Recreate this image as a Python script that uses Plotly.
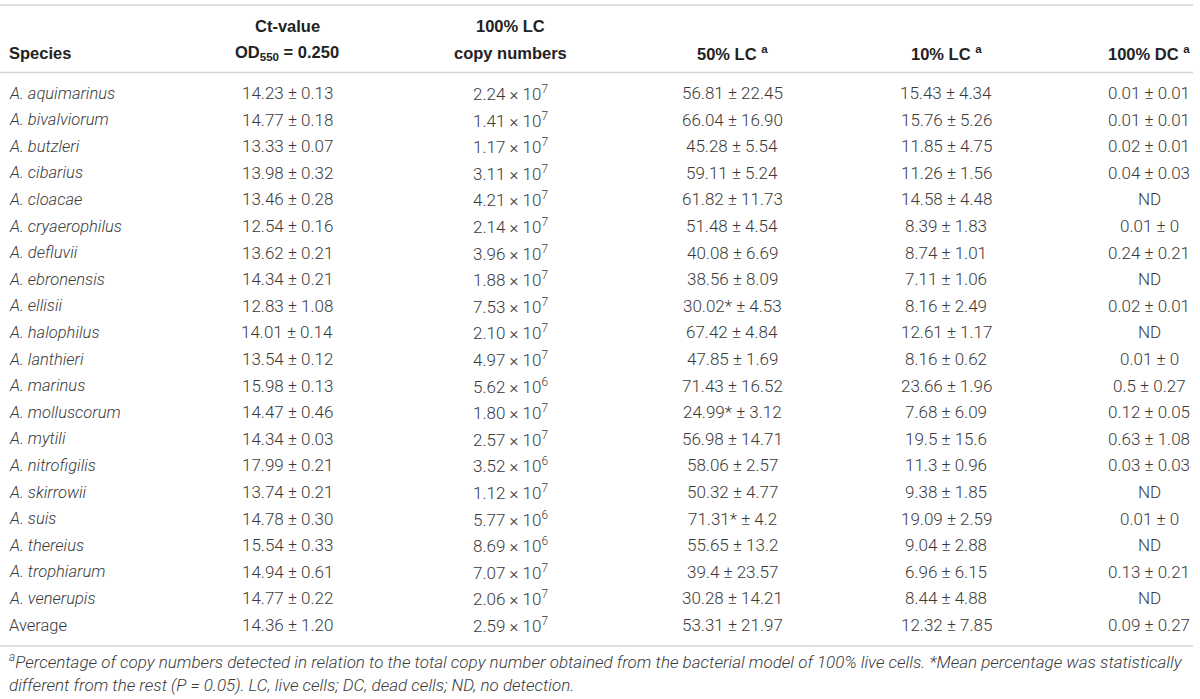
import plotly.graph_objects as go

# table data
species = ["A. aquimarinus", "A. bivalviorum", "A. butzleri", "A. cibarius", "A. cloacae",
           "A. cryaerophilus", "A. defluvii", "A. ebronensis", "A. ellisii", "A. halophilus",
           "A. lanthieri", "A. marinus", "A. molluscorum", "A. mytili", "A. nitrofigilis",
           "A. skirrowii", "A. suis", "A. thereius", "A. trophiarum", "A. venerupis", "Average"]

ct_mean = ["14.23", "14.77", "13.33", "13.98", "13.46", "12.54", "13.62", "14.34", "12.83", "14.01",
           "13.54", "15.98", "14.47", "14.34", "17.99", "13.74", "14.78", "15.54", "14.94", "14.77", "14.36"]
ct_sd = ["0.13", "0.18", "0.07", "0.32", "0.28", "0.16", "0.21", "0.21", "1.08", "0.14",
         "0.12", "0.13", "0.46", "0.03", "0.21", "0.21", "0.30", "0.33", "0.61", "0.22", "1.20"]

copy_mant = ["2.24", "1.41", "1.17", "3.11", "4.21", "2.14", "3.96", "1.88", "7.53", "2.10",
             "4.97", "5.62", "1.80", "2.57", "3.52", "1.12", "5.77", "8.69", "7.07", "2.06", "2.59"]
copy_exp = [7, 7, 7, 7, 7, 7, 7, 7, 7, 7, 7, 6, 7, 7, 6, 7, 6, 6, 7, 7, 7]

lc50_mean = ["56.81", "66.04", "45.28", "59.11", "61.82", "51.48", "40.08", "38.56", "30.02", "67.42",
             "47.85", "71.43", "24.99", "56.98", "58.06", "50.32", "71.31", "55.65", "39.4", "30.28", "53.31"]
lc50_sd = ["22.45", "16.90", "5.54", "5.24", "11.73", "4.54", "6.69", "8.09", "4.53", "4.84",
           "1.69", "16.52", "3.12", "14.71", "2.57", "4.77", "4.2", "13.2", "23.57", "14.21", "21.97"]
lc50_signif = [False, False, False, False, False, False, False, False, True, False,
               False, False, True, False, False, False, True, False, False, False, False]

lc10_mean = ["15.43", "15.76", "11.85", "11.26", "14.58", "8.39", "8.74", "7.11", "8.16", "12.61",
             "8.16", "23.66", "7.68", "19.5", "11.3", "9.38", "19.09", "9.04", "6.96", "8.44", "12.32"]
lc10_sd = ["4.34", "5.26", "4.75", "1.56", "4.48", "1.83", "1.01", "1.06", "2.49", "1.17",
           "0.62", "1.96", "6.09", "15.6", "0.96", "1.85", "2.59", "2.88", "6.15", "4.88", "7.85"]

dc_mean = ["0.01", "0.01", "0.02", "0.04", None, "0.01", "0.24", None, "0.02", None,
           "0.01", "0.5", "0.12", "0.63", "0.03", None, "0.01", None, "0.13", None, "0.09"]
dc_sd = ["0.01", "0.01", "0.01", "0.03", None, "0", "0.21", None, "0.01", None,
         "0", "0.27", "0.05", "1.08", "0.03", None, "0", None, "0.21", None, "0.27"]

headers_top = ["", "Ct-value", "100% LC", "", "", ""]
headers_bottom = ["Species", "OD<sub>550</sub> = 0.250", "copy numbers",
                  "50% LC <sup>a</sup>", "10% LC <sup>a</sup>", "100% DC <sup>a</sup>"]

footnote = [
    "<sup>a</sup>Percentage of copy numbers detected in relation to the total copy number obtained "
    "from the bacterial model of 100% live cells. *Mean percentage was statistically",
    "different from the rest (P = 0.05). LC, live cells; DC, dead cells; ND, no detection.",
]

##############################################################
W, H = 1200, 699
col_x = [7, 287, 510, 732, 946, 1149]
row_y0, row_dy = 93, 26.6
num_font = dict(family="Roboto", size=17, color="#3a3a3a", weight=300)
name_font = dict(family="Roboto", size=16.5, color="#3a3a3a", weight=300)
head_font = dict(family="Liberation Sans", size=16.5, color="#222222", weight="bold")
line_color = "#d4d4d4"


def pm(m, s):
    return f"{m} ± {s}"


annotations = []


def cell(x, y, text, font, anchor="center"):
    annotations.append(dict(x=x, y=y, xref="x", yref="y", text=text, showarrow=False,
                            xanchor=anchor, yanchor="middle", font=font))


# header
for i in range(6):
    anchor = "left" if i == 0 else "center"
    if headers_top[i]:
        cell(col_x[i], 26, headers_top[i], head_font, anchor)
    cell(col_x[i], 53, headers_bottom[i], head_font, anchor)

# body rows
for r, sp in enumerate(species):
    y = row_y0 + r * row_dy
    name = sp if sp == "Average" else f"<i>{sp}</i>"
    cell(col_x[0], y, name, name_font, "left")
    cell(col_x[1], y, pm(ct_mean[r], ct_sd[r]), num_font)
    cell(col_x[2], y, f"{copy_mant[r]} × 10<sup>{copy_exp[r]}</sup>", num_font)
    star = "*" if lc50_signif[r] else ""
    cell(col_x[3], y, pm(lc50_mean[r] + star, lc50_sd[r]), num_font)
    cell(col_x[4], y, pm(lc10_mean[r], lc10_sd[r]), num_font)
    dc = "ND" if dc_mean[r] is None else pm(dc_mean[r], dc_sd[r])
    cell(col_x[5], y, dc, num_font)

# footnote
foot_font = dict(family="Roboto", size=17, color="#3a3a3a", weight=300)
for k, t in enumerate(footnote):
    cell(7, 661 + k * 24, f"<i>{t}</i>", foot_font, "left")

shapes = [
    dict(type="line", xref="x", yref="y", x0=0, x1=1193, y0=yy, y1=yy,
         line=dict(color=line_color, width=1.5))
    for yy in (5, 72.5, 646)
]

fig = go.Figure()
fig.update_layout(
    width=W, height=H,
    margin=dict(l=0, r=0, t=0, b=0),
    paper_bgcolor="white", plot_bgcolor="white",
    xaxis=dict(range=[0, W], visible=False, fixedrange=True),
    yaxis=dict(range=[H, 0], visible=False, fixedrange=True),
    annotations=annotations,
    shapes=shapes,
    showlegend=False,
)
fig.write_html("out.html", post_script="document.body.style.margin = '0';",
               config={"displayModeBar": False})
